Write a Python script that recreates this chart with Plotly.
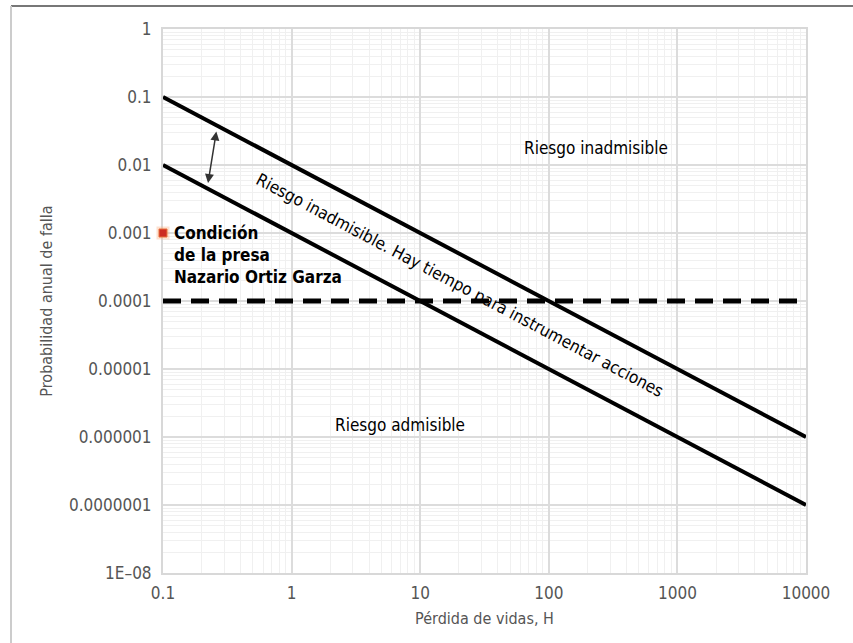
import plotly.graph_objects as go
import math

# ---- data ----
H_ends = [0.1, 10000]
upper_limit = [0.1, 0.000001]
lower_limit = [0.01, 0.0000001]
threshold = [0.0001, 0.0001]
dam_H = [0.1]
dam_p = [0.001]
dam_label = "Condición<br>de la presa<br>Nazario Ortiz Garza"

x_tickvals = [0.1, 1, 10, 100, 1000, 10000]
x_ticktext = ["0.1", "1", "10", "100", "1000", "10000"]
y_tickvals = [1, 0.1, 0.01, 0.001, 0.0001, 0.00001, 0.000001, 0.0000001, 0.00000001]
y_ticktext = ["1", "0.1", "0.01", "0.001", "0.0001", "0.00001", "0.000001", "0.0000001", "1E\u201308"]

arrow_top = (0.261, 0.0327)
arrow_bot = (0.224, 0.00543)

FONT = "DejaVu Sans Condensed, Liberation Sans Narrow, sans-serif"
L = math.log10

fig = go.Figure()
fig.add_trace(go.Scatter(x=H_ends, y=upper_limit, mode="lines",
                         line=dict(color="black", width=4), showlegend=False))
fig.add_trace(go.Scatter(x=H_ends, y=lower_limit, mode="lines",
                         line=dict(color="black", width=4), showlegend=False))
fig.add_trace(go.Scatter(x=H_ends, y=threshold, mode="lines",
                         line=dict(color="black", width=5, dash="18px,10px"), showlegend=False))
fig.add_trace(go.Scatter(x=dam_H, y=dam_p, mode="markers", cliponaxis=False,
                         marker=dict(symbol="square", size=13, color="rgba(250,170,120,0.35)"),
                         showlegend=False))
fig.add_trace(go.Scatter(x=dam_H, y=dam_p, mode="markers", cliponaxis=False,
                         marker=dict(symbol="square", size=8, color="#cc2a22",
                                     line=dict(color="#e8703a", width=1)),
                         showlegend=False))

annotations = [
    dict(x=L(dam_H[0]), y=L(dam_p[0]), xref="x", yref="y", text=dam_label,
         showarrow=False, xanchor="left", yanchor="top", align="left",
         xshift=9, yshift=12,
         font=dict(family=FONT, size=17, color="black", weight="bold")),
    dict(x=2.37, y=-1.75, xref="x", yref="y", text="Riesgo inadmisible",
         showarrow=False, font=dict(family=FONT, size=17, color="black")),
    dict(x=0.843, y=-5.82, xref="x", yref="y", text="Riesgo admisible",
         showarrow=False, font=dict(family=FONT, size=17, color="black")),
    dict(x=1.309, y=-3.765, xref="x", yref="y",
         text="Riesgo inadmisible. Hay tiempo para instrumentar acciones",
         showarrow=False, textangle=27.9,
         font=dict(family=FONT, size=17, color="black")),
    dict(x=L(arrow_bot[0]), y=L(arrow_bot[1]), ax=L(arrow_top[0]), ay=L(arrow_top[1]),
         xref="x", yref="y", axref="x", ayref="y", text="", showarrow=True,
         arrowhead=2, startarrowhead=2, arrowside="end+start", arrowsize=1.2,
         arrowwidth=1.5, arrowcolor="#333333"),
]

# outer frame lines (top & left)
shapes = [
    dict(type="line", xref="paper", yref="paper", x0=-0.2364, x1=1.08, y0=1.0423, y1=1.0423,
         line=dict(color="#777777", width=2)),
    dict(type="line", xref="paper", yref="paper", x0=-0.2364, x1=-0.2364, y0=1.0423, y1=-0.2,
         line=dict(color="#cccccc", width=2)),
]

axis_common = dict(
    type="log", layer="below traces",
    showgrid=True, gridcolor="#dcdcdc", gridwidth=1.5,
    showline=True, linecolor="#d8d8d8", linewidth=2, mirror=True,
    ticks="", zeroline=False,
    tickfont=dict(family=FONT, size=17, color="#555555"),
    minor=dict(dtick="D1", showgrid=True, gridcolor="#f0f0f0", gridwidth=1),
)

fig.update_layout(
    width=853, height=643,
    margin=dict(l=163, r=47, t=29, b=70),
    paper_bgcolor="white", plot_bgcolor="white",
    xaxis=dict(axis_common, range=[-1, 4], tickvals=x_tickvals, ticktext=x_ticktext,
               ticklabelstandoff=4,
               title=dict(text="Pérdida de vidas, H", standoff=10,
                          font=dict(family=FONT, size=16, color="#555555"))),
    yaxis=dict(axis_common, range=[-8, 0], tickvals=y_tickvals, ticktext=y_ticktext,
               ticklabelstandoff=6,
               title=dict(text="Probabilidad anual de falla", standoff=12,
                          font=dict(family=FONT, size=16, color="#555555"))),
    annotations=annotations,
    shapes=shapes,
    showlegend=False,
)

fig.write_html("out.html")
